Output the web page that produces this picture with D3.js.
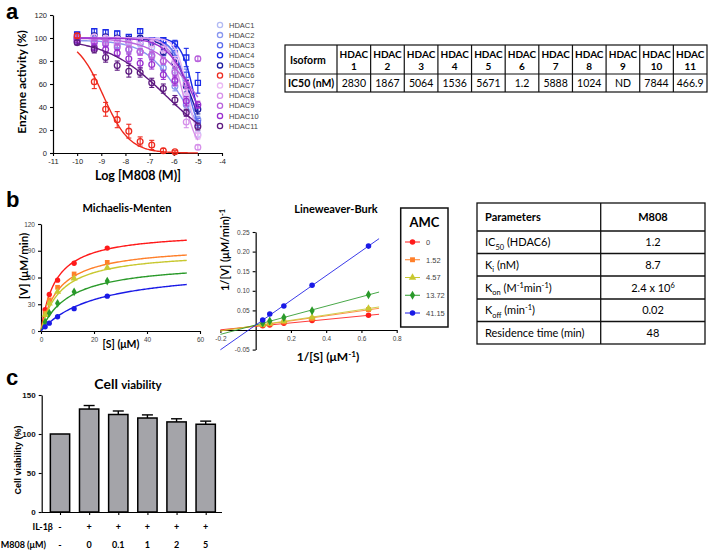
<!DOCTYPE html>
<html><head><meta charset="utf-8">
<script src="https://cdn.jsdelivr.net/npm/d3@7"></script>
<style>body{margin:0;background:#fff} svg{display:block}</style>
</head><body>
<svg id="chart" width="709" height="551"></svg>
<script>
// ---------- Panel a data ----------
const logConc = [-10, -9.29, -8.82, -8.34, -7.86, -7.39, -6.91, -6.43, -5.95, -5.48, -5.0];
const isoforms = ["HDAC1","HDAC2","HDAC3","HDAC4","HDAC5","HDAC6","HDAC7","HDAC8","HDAC9","HDAC10","HDAC11"];
const isoColors = ["#b3bbf4","#8a98f0","#5b6cee","#1a2ae8","#1c1ca0","#ee2a1e","#eab8f4","#d690ea","#b862dc","#9a30d0","#5e1a80"];
const isoShapes = ["circle","circle","square","square","circle","circle","circle","circle","circle","circle","circle"];
const activity = [
  [100, 99, 98, 97, 96, 95, 92, 86, 72, 48, 16],
  [97, 96, 95, 94, 90, 88, 84, 74, 58, 42, 29],
  [101, 100, 100, 99, 98, 97, 96, 93, 87, 68, 26],
  [103, 106, 105, 104, 101, 106, 98, 98, 95, 83, 61],
  [100, 102, 101, 100, 99, 100, 96, 88, 78, 58, 38],
  [102, 62, 38, 29, 19, 10, 7, 2, 1, null, null],
  [100, 101, 100, 99, 98, 97, 95, 90, 80, 50, 15],
  [99, 98, 97, 96, 95, 88, 85, 80, 62, 27, 5],
  [100, 96, 95, 92, 90, 88, 85, 80, 70, 60, 82],
  [98, 92, 90, 87, 82, 78, 77, 68, 63, 45, 42],
  [96, 90, 83, 76, 71, 70, 61, 56, 46, 35, 23]
];
const activityErr = [
  [2, 2, 2, 2, 2, 2, 3, 3, 4, 4, 3],
  [2, 2, 2, 3, 3, 3, 3, 3, 4, 4, 3],
  [2, 2, 2, 2, 2, 2, 2, 3, 4, 5, 4],
  [2, 2, 2, 2, 2, 2, 2, 2, 3, 8, 9],
  [2, 2, 2, 2, 2, 2, 3, 3, 4, 5, 4],
  [2, 6, 6, 7, 6, 4, 4, 2, 1, null, null],
  [2, 2, 2, 2, 2, 2, 3, 3, 4, 5, 3],
  [2, 2, 2, 2, 2, 3, 3, 3, 4, 5, 2],
  [2, 2, 3, 3, 3, 3, 3, 3, 4, 4, 2],
  [2, 3, 3, 3, 4, 4, 4, 4, 4, 4, 3],
  [2, 3, 4, 4, 5, 4, 4, 4, 4, 3, 3]
];
const fitLogIC50 = [-5.45, -5.7, -5.35, -5.15, -5.3, -8.92, -5.4, -5.6, -5.05, -5.2, -6.33];
const fitHill    = [1.4, 0.6, 1.3, 1.6, 1.0, 0.8, 1.8, 1.5, 0.5, 0.8, 0.35];
const fitTop     = [100, 98, 100, 100, 100, 100, 100, 100, 100, 100, 100];
const ic50Table  = ["2830","1867","5064","1536","5671","1.2","5888","1024","ND","7844","466.9"];
const tableHeadNum = ["1","2","3","4","5","6","7","8","9","10","11"];

// ---------- Panel b data ----------
const substrate = [1.5625, 3.125, 6.25, 12.5, 25];
const amcLevels = ["0","1.52","4.57","13.72","41.15"];
const amcColors = ["#ff1a1a","#ff7f2a","#c8c830","#2a9a2a","#1a1ae6"];
const amcShapes = ["circle","square","triangle","diamond","circle"];
const velocity = [
  [24, 41, 57, 76, 93],
  [20, 35, 49, 64, 77],
  [18, 31, 44, 59, 71],
  [10, 20, 31, 44, 56],
  [4.7, 8.8, 16, 25, 39]
];
const mmVmax = [112, 96, 90, 78, 72];
const mmKm   = [5.5, 7, 7.5, 11, 21];
const invS = [0.04, 0.08, 0.16, 0.32, 0.64];
const invV = [
  [0.011, 0.013, 0.0175, 0.024, 0.0375],
  [0.013, 0.0156, 0.0204, 0.0286, 0.052],
  [0.014, 0.017, 0.0227, 0.032, 0.055],
  [0.018, 0.023, 0.032, 0.049, 0.09],
  [0.0256, 0.041, 0.061, 0.114, 0.214]
];
const lbSlope     = [0.044, 0.064, 0.068, 0.12, 0.315];
const lbIntercept = [0.0093, 0.0105, 0.0112, 0.0128, 0.0125];
const paramNames = [
  [["IC",""],["50","sub"],[" (HDAC6)",""]],
  [["K",""],["i","sub"],[" (nM)",""]],
  [["K",""],["on","sub"],[" (M",""],["-1","sup"],["min",""],["-1","sup"],[")",""]],
  [["K",""],["off","sub"],[" (min",""],["-1","sup"],[")",""]],
  [["Residence time (min)",""]]
];
const paramValues = [
  [["1.2",""]],
  [["8.7",""]],
  [["2.4 x 10",""],["6","sup"]],
  [["0.02",""]],
  [["48",""]]
];

// ---------- Panel c data ----------
const viability    = [100, 132, 125, 120.5, 115.5, 112.5];
const viabilityErr = [0, 4.5, 4.5, 4, 4, 4];
const il1b = ["-","+","+","+","+","+"];
const m808 = ["-","0","0.1","1","2","5"];

// ---------- helpers ----------
const svg = d3.select("#chart");
const TICKF = "'Liberation Sans', Arial, sans-serif";
const TITLEF = "Lato, 'Open Sans', sans-serif";

function styleAxis(g, size, color, weight) {
  g.select(".domain").attr("stroke", "#000").attr("stroke-width", 1.2);
  g.selectAll(".tick line").attr("stroke", "#000").attr("stroke-width", 1.1);
  g.selectAll(".tick text").attr("font-family", TICKF).attr("font-size", size)
    .attr("fill", color).attr("font-weight", weight || "normal");
}
function rich(textSel, parts, baseSize) {
  parts.forEach(([t, kind], i) => {
    const prev = i > 0 ? parts[i-1][1] : "";
    const off = baseSize * 0.3;
    const prevOff = prev === "sub" ? off : prev === "sup" ? -off*1.2 : 0;
    const curOff = kind === "sub" ? off : kind === "sup" ? -off*1.2 : 0;
    textSel.append("tspan").attr("dy", curOff - prevOff)
      .attr("font-size", kind ? baseSize * 0.68 : baseSize).text(t);
  });
}
function symbolPath(shape, size) {
  const map = {circle: d3.symbolCircle, square: d3.symbolSquare, triangle: d3.symbolTriangle, diamond: d3.symbolDiamond};
  return d3.symbol().type(map[shape]).size(size)();
}

// ---------- panel labels ----------
[["a", 6, 19], ["b", 6, 207], ["c", 6, 385]].forEach(([t, x, y]) =>
  svg.append("text").attr("x", x).attr("y", y).attr("font-family", TICKF)
    .attr("font-weight", "bold").attr("font-size", 22).text(t));

// ---------- Panel a plot ----------
const ax = d3.scaleLinear().domain([-11, -4]).range([53, 222]);
const ay = d3.scaleLinear().domain([0, 120]).range([153, 15]);
svg.append("g").attr("transform", `translate(0,${ay(0)})`)
  .call(d3.axisBottom(ax).tickValues(d3.range(-11, -3)).tickSize(3).tickSizeOuter(0).tickFormat(d => String(d)))
  .call(g => styleAxis(g, 7.5, "#222"));
svg.append("g").attr("transform", `translate(${ax(-11)},0)`)
  .call(d3.axisLeft(ay).tickValues(d3.range(0, 121, 20)).tickSize(3).tickSizeOuter(0))
  .call(g => styleAxis(g, 7.5, "#222"));
svg.append("text").attr("x", 138).attr("y", 180).attr("text-anchor", "middle")
  .attr("font-family", TITLEF).attr("font-weight", "bold").attr("font-size", 12.5).text("Log [M808 (M)]");
svg.append("text").attr("transform", "translate(26,82) rotate(-90)").attr("text-anchor", "middle")
  .attr("font-family", TITLEF).attr("font-weight", "bold").attr("font-size", 12).text("Enzyme activity (%)");

const curveX = d3.range(-10, -4.999, 0.05);
const order = [0,1,2,3,4,6,7,8,9,10,5];
order.forEach(i => {
  const col = isoColors[i];
  const line = d3.line().x(d => ax(d)).y(d => ay(fitTop[i] / (1 + Math.pow(10, (d - fitLogIC50[i]) * fitHill[i]))));
  svg.append("path").attr("d", line(curveX)).attr("fill", "none").attr("stroke", col).attr("stroke-width", 1.4);
  const g = svg.append("g");
  activity[i].forEach((v, j) => {
    if (v == null) return;
    const x = ax(logConc[j]), e = activityErr[i][j];
    if (e) {
      g.append("line").attr("x1", x).attr("x2", x).attr("y1", ay(v - e)).attr("y2", ay(v + e)).attr("stroke", col).attr("stroke-width", 1.1);
      [v - e, v + e].forEach(yy => g.append("line").attr("x1", x - 2.5).attr("x2", x + 2.5).attr("y1", ay(yy)).attr("y2", ay(yy)).attr("stroke", col).attr("stroke-width", 1.1));
    }
    g.append("path").attr("d", symbolPath(isoShapes[i], 26))
      .attr("transform", `translate(${x},${ay(v)})`).attr("fill", "none").attr("stroke", col).attr("stroke-width", 1.3);
  });
});
// legend
isoforms.forEach((n, i) => {
  const y = 25 + i * 10.1;
  svg.append("circle").attr("cx", 220).attr("cy", y).attr("r", 2.6).attr("fill", "none").attr("stroke", isoColors[i]).attr("stroke-width", 1.3);
  svg.append("text").attr("x", 229).attr("y", y + 2.6).attr("font-family", TICKF).attr("font-size", 7.5).attr("fill", "#444").text(n);
});

// ---------- Table a ----------
const tA = svg.append("g");
const colX = d3.scaleBand().domain(isoforms).range([337, 707]);
const tTop = 45, tMid = 74, tBot = 92, tLeft = 285, tRight = 707;
tA.append("rect").attr("x", tLeft).attr("y", tTop).attr("width", tRight - tLeft).attr("height", tBot - tTop).attr("fill", "none").attr("stroke", "#111").attr("stroke-width", 1.2);
tA.append("line").attr("x1", tLeft).attr("x2", tRight).attr("y1", tMid).attr("y2", tMid).attr("stroke", "#111").attr("stroke-width", 1.2);
isoforms.forEach((n, i) => {
  const x0 = colX(n);
  tA.append("line").attr("x1", x0).attr("x2", x0).attr("y1", tTop).attr("y2", tBot).attr("stroke", "#111").attr("stroke-width", 1.2);
  const cx = x0 + colX.bandwidth() / 2;
  tA.append("text").attr("x", cx).attr("y", 58).attr("text-anchor", "middle").attr("font-family", TITLEF).attr("font-weight", "bold").attr("font-size", 10).text("HDAC");
  tA.append("text").attr("x", cx).attr("y", 70).attr("text-anchor", "middle").attr("font-family", TITLEF).attr("font-weight", "bold").attr("font-size", 10).text(tableHeadNum[i]);
  tA.append("text").attr("x", cx).attr("y", 87).attr("text-anchor", "middle").attr("font-family", TITLEF).attr("font-size", 10.5).text(ic50Table[i]);
});
tA.append("text").attr("x", 290).attr("y", 64).attr("font-family", TITLEF).attr("font-weight", "bold").attr("font-size", 10.5).text("Isoform");
tA.append("text").attr("x", 288).attr("y", 87).attr("font-family", TITLEF).attr("font-weight", "bold").attr("font-size", 10.5).text("IC50 (nM)");

// ---------- Panel b : Michaelis-Menten ----------
const bx = d3.scaleLinear().domain([0, 60]).range([41, 200]);
const by = d3.scaleLinear().domain([0, 120]).range([331, 224]);
svg.append("g").attr("transform", `translate(0,${by(0)})`)
  .call(d3.axisBottom(bx).tickValues([0, 20, 40, 60]).tickSize(3).tickSizeOuter(0))
  .call(g => styleAxis(g, 6.5, "#444"));
svg.append("g").attr("transform", `translate(${bx(0)},0)`)
  .call(d3.axisLeft(by).tickValues([0, 30, 60, 90, 120]).tickSize(3).tickSizeOuter(0))
  .call(g => styleAxis(g, 6.5, "#444"));
svg.append("text").attr("x", 127).attr("y", 212).attr("text-anchor", "middle").attr("font-family", TITLEF).attr("font-weight", "bold").attr("font-size", 11).text("Michaelis-Menten");
svg.append("text").attr("x", 121).attr("y", 348).attr("text-anchor", "middle").attr("font-family", TITLEF).attr("font-weight", "bold").attr("font-size", 10.5).text("[S] (μM)");
svg.append("text").attr("transform", "translate(28,266) rotate(-90)").attr("text-anchor", "middle").attr("font-family", TITLEF).attr("font-weight", "bold").attr("font-size", 11.5).text("[V] (μM/min)");
const sCurve = d3.range(0, 55.01, 0.5);
amcLevels.forEach((lv, i) => {
  const line = d3.line().x(d => bx(d)).y(d => by(mmVmax[i] * d / (mmKm[i] + d)));
  svg.append("path").attr("d", line(sCurve)).attr("fill", "none").attr("stroke", amcColors[i]).attr("stroke-width", 1.4);
  velocity[i].forEach((v, j) => svg.append("path").attr("d", symbolPath(amcShapes[i], 22))
    .attr("transform", `translate(${bx(substrate[j])},${by(v)})`).attr("fill", amcColors[i]));
});

// ---------- Panel b : Lineweaver-Burk ----------
const lx = d3.scaleLinear().domain([-0.2, 0.8]).range([220.4, 396.7]);
const ly = d3.scaleLinear().domain([-0.05, 0.25]).range([349.6, 232]);
svg.append("g").attr("transform", `translate(0,${ly(0)})`)
  .call(d3.axisBottom(lx).tickValues([-0.2, 0.2, 0.4, 0.6, 0.8]).tickSize(3).tickSizeOuter(0).tickFormat(d => d.toFixed(1)))
  .call(g => styleAxis(g, 6.5, "#444"));
svg.append("g").attr("transform", `translate(${lx(0)},0)`)
  .call(d3.axisLeft(ly).tickValues([-0.05, 0.05, 0.1, 0.15, 0.2, 0.25]).tickSize(3).tickSizeOuter(0).tickFormat(d => d.toFixed(2)))
  .call(g => styleAxis(g, 6.5, "#444"));
svg.append("text").attr("x", 336).attr("y", 213).attr("text-anchor", "middle").attr("font-family", TITLEF).attr("font-weight", "bold").attr("font-size", 11).text("Lineweaver-Burk");
rich(svg.append("text").attr("x", 328).attr("y", 361).attr("text-anchor", "middle").attr("font-family", TITLEF).attr("font-weight", "bold"),
  [["1/[S] (μM",""],["-1","sup"],[")",""]], 12);
rich(svg.append("text").attr("transform", "translate(229,250) rotate(-90)").attr("text-anchor", "middle").attr("font-family", TITLEF).attr("font-weight", "bold"),
  [["1/[V] (μM/min)",""],["-1","sup"]], 11);
amcLevels.forEach((lv, i) => {
  const ends = [-0.2, 0.7];
  svg.append("line").attr("x1", lx(ends[0])).attr("y1", ly(lbIntercept[i] + lbSlope[i] * ends[0]))
    .attr("x2", lx(ends[1])).attr("y2", ly(lbIntercept[i] + lbSlope[i] * ends[1]))
    .attr("stroke", amcColors[i]).attr("stroke-width", 1).attr("opacity", 0.85);
});
amcLevels.forEach((lv, i) => {
  invV[i].forEach((v, j) => svg.append("path").attr("d", symbolPath(amcShapes[i], 24))
    .attr("transform", `translate(${lx(invS[j])},${ly(v)})`).attr("fill", amcColors[i]));
});
// AMC legend
svg.append("rect").attr("x", 400.7).attr("y", 208).attr("width", 47.3).attr("height", 119).attr("fill", "#fff").attr("stroke", "#111").attr("stroke-width", 1.5);
svg.append("text").attr("x", 424.5).attr("y", 227).attr("text-anchor", "middle").attr("font-family", TITLEF).attr("font-weight", "bold").attr("font-size", 13).text("AMC");
amcLevels.forEach((lv, i) => {
  const y = 242 + i * 17.75;
  svg.append("line").attr("x1", 405).attr("x2", 420).attr("y1", y).attr("y2", y).attr("stroke", amcColors[i]).attr("stroke-width", 1);
  svg.append("path").attr("d", symbolPath(amcShapes[i], 24)).attr("transform", `translate(412.5,${y})`).attr("fill", amcColors[i]);
  svg.append("text").attr("x", 426).attr("y", y + 2.8).attr("font-family", TICKF).attr("font-size", 7.5).attr("fill", "#444").text(lv);
});

// ---------- Table b ----------
const tB = svg.append("g");
const rowY = [203, 231, 253.5, 276, 299, 321.5, 344];
tB.append("rect").attr("x", 477).attr("y", rowY[0]).attr("width", 228).attr("height", rowY[6] - rowY[0]).attr("fill", "none").attr("stroke", "#111").attr("stroke-width", 1.3);
rowY.slice(1, 6).forEach(y => tB.append("line").attr("x1", 477).attr("x2", 705).attr("y1", y).attr("y2", y).attr("stroke", "#111").attr("stroke-width", 1.3));
tB.append("line").attr("x1", 600.7).attr("x2", 600.7).attr("y1", rowY[0]).attr("y2", rowY[6]).attr("stroke", "#111").attr("stroke-width", 1.3);
tB.append("text").attr("x", 485).attr("y", 221).attr("font-family", TITLEF).attr("font-weight", "bold").attr("font-size", 11).text("Parameters");
tB.append("text").attr("x", 653).attr("y", 221).attr("text-anchor", "middle").attr("font-family", TITLEF).attr("font-weight", "bold").attr("font-size", 11).text("M808");
paramNames.forEach((parts, i) => {
  const yb = (rowY[i + 1] + rowY[i + 2]) / 2 + 4;
  rich(tB.append("text").attr("x", 485).attr("y", yb).attr("font-family", TITLEF), parts, 11);
  rich(tB.append("text").attr("x", 653).attr("y", yb).attr("text-anchor", "middle").attr("font-family", TITLEF), paramValues[i], 11);
});

// ---------- Panel c ----------
const cx = d3.scalePoint().domain(d3.range(viability.length)).range([60, 205.7]);
const cy = d3.scaleLinear().domain([0, 150]).range([512, 395]);
const barW = 19.3;
viability.forEach((v, i) => {
  const x = cx(i), e = viabilityErr[i];
  if (e) {
    svg.append("line").attr("x1", x).attr("x2", x).attr("y1", cy(v)).attr("y2", cy(v + e)).attr("stroke", "#000").attr("stroke-width", 1.4);
    svg.append("line").attr("x1", x - 5.5).attr("x2", x + 5.5).attr("y1", cy(v + e)).attr("y2", cy(v + e)).attr("stroke", "#000").attr("stroke-width", 1.4);
  }
  svg.append("rect").attr("x", x - barW / 2).attr("y", cy(v)).attr("width", barW).attr("height", cy(0) - cy(v))
    .attr("fill", "#a4a4a9").attr("stroke", "#000").attr("stroke-width", 1.5);
});
svg.append("g").attr("transform", `translate(0,${cy(0)})`)
  .call(d3.axisBottom(cx).tickSize(3).tickSizeOuter(0).tickFormat(""))
  .call(g => { styleAxis(g, 7, "#222"); g.select(".domain").attr("d", `M41.7,0.5H222`); });
svg.append("g").attr("transform", `translate(41.7,0)`)
  .call(d3.axisLeft(cy).tickValues([0, 50, 100, 150]).tickSize(3).tickSizeOuter(0))
  .call(g => styleAxis(g, 8, "#111", "bold"));
const ct = svg.append("text").attr("x", 128).attr("y", 389).attr("text-anchor", "middle").attr("font-family", TITLEF).attr("font-weight", "bold");
ct.append("tspan").attr("font-size", 14).text("Cell ");
ct.append("tspan").attr("font-size", 11.5).text("viability");
svg.append("text").attr("transform", "translate(21,460) rotate(-90)").attr("text-anchor", "middle").attr("font-family", TICKF).attr("font-weight", "bold").attr("font-size", 9).text("Cell viability (%)");
svg.append("text").attr("x", 53).attr("y", 530).attr("text-anchor", "end").attr("font-family", TITLEF).attr("font-weight", "bold").attr("font-size", 9).text("IL-1β");
svg.append("text").attr("x", 46).attr("y", 548).attr("text-anchor", "end").attr("font-family", TITLEF).attr("font-weight", "bold").attr("font-size", 9).text("M808 (μM)");
il1b.forEach((t, i) => svg.append("text").attr("x", cx(i)).attr("y", 530).attr("text-anchor", "middle").attr("font-family", TITLEF).attr("font-weight", "bold").attr("font-size", 9).text(t));
m808.forEach((t, i) => svg.append("text").attr("x", cx(i)).attr("y", 548).attr("text-anchor", "middle").attr("font-family", TITLEF).attr("font-weight", "bold").attr("font-size", 9).text(t));
</script>
</body></html>
